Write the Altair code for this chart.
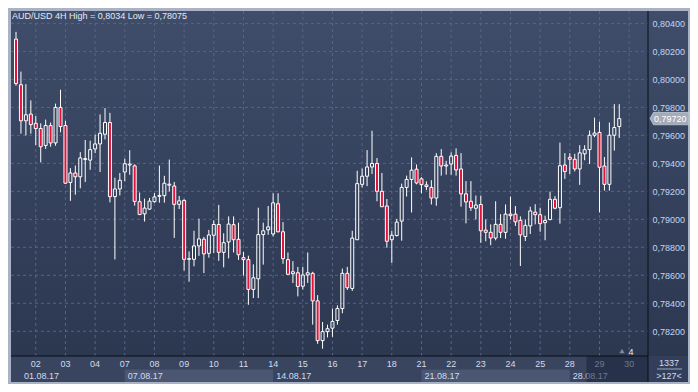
import altair as alt
import pandas as pd

# ---- data (AUD/USD, 4H candles) ----
opens = [0.80288, 0.79962, 0.79704, 0.79752, 0.79686, 0.79649, 0.79528, 0.79670, 0.79546, 0.79800,
         0.79670, 0.79263, 0.79331, 0.79304, 0.79427, 0.79423, 0.79503, 0.79539, 0.79608, 0.79692,
         0.79162, 0.79217, 0.79338, 0.79388, 0.79382, 0.79126, 0.79039, 0.79073, 0.79126, 0.79164,
         0.79169, 0.79244, 0.79238, 0.79107, 0.79135, 0.78714, 0.78714, 0.78810, 0.78858, 0.78757,
         0.78886, 0.78963, 0.78764, 0.78838, 0.78962, 0.78857, 0.78726, 0.78712, 0.78499, 0.78575,
         0.78891, 0.78925, 0.78895, 0.79111, 0.78911, 0.78712, 0.78611, 0.78618, 0.78522, 0.78602,
         0.78614, 0.78417, 0.78133, 0.78197, 0.78222, 0.78277, 0.78362, 0.78614, 0.78506, 0.78854,
         0.79250, 0.79308, 0.79374, 0.79399, 0.79200, 0.79095, 0.78854, 0.78884, 0.78987, 0.79228,
         0.79285, 0.79358, 0.79289, 0.79246, 0.79228, 0.79152, 0.79450, 0.79381, 0.79395, 0.79457,
         0.79360, 0.79182, 0.79129, 0.79079, 0.79106, 0.78923, 0.78907, 0.78866, 0.78964, 0.78907,
         0.79037, 0.79037, 0.78992, 0.78877, 0.78953, 0.79051, 0.79033, 0.78976, 0.78999, 0.79143,
         0.79083, 0.79388, 0.79443, 0.79429, 0.79360, 0.79468, 0.79498, 0.79601, 0.79621, 0.79381,
         0.79250, 0.79601, 0.79663]
highs = [0.80340, 0.80056, 0.79966, 0.79850, 0.79738, 0.79686, 0.79713, 0.79692, 0.79827, 0.79926,
         0.79704, 0.79366, 0.79384, 0.79480, 0.79567, 0.79562, 0.79606, 0.79750, 0.79795, 0.79761,
         0.79297, 0.79331, 0.79434, 0.79494, 0.79393, 0.79192, 0.79148, 0.79153, 0.79187, 0.79384,
         0.79311, 0.79427, 0.79267, 0.79167, 0.79144, 0.78771, 0.78918, 0.79004, 0.78874, 0.78924,
         0.78993, 0.79103, 0.78900, 0.79021, 0.79021, 0.78976, 0.78767, 0.78740, 0.78678, 0.79083,
         0.78976, 0.79095, 0.79186, 0.79186, 0.78980, 0.78763, 0.78701, 0.78660, 0.78660, 0.78763,
         0.78625, 0.78458, 0.78266, 0.78247, 0.78362, 0.78385, 0.78648, 0.78660, 0.78918, 0.79347,
         0.79363, 0.79495, 0.79633, 0.79438, 0.79331, 0.79145, 0.78918, 0.79003, 0.79255, 0.79312,
         0.79443, 0.79392, 0.79301, 0.79271, 0.79280, 0.79473, 0.79502, 0.79418, 0.79479, 0.79507,
         0.79473, 0.79273, 0.79273, 0.79170, 0.79170, 0.78999, 0.78964, 0.79129, 0.79037, 0.79106,
         0.79163, 0.79095, 0.79021, 0.78999, 0.79090, 0.79108, 0.79083, 0.79026, 0.79198, 0.79166,
         0.79548, 0.79473, 0.79473, 0.79468, 0.79530, 0.79530, 0.79635, 0.79727, 0.79697, 0.79445,
         0.79692, 0.79823, 0.79823]
lows = [0.79955, 0.79612, 0.79599, 0.79612, 0.79530, 0.79407, 0.79503, 0.79519, 0.79526, 0.79622,
        0.79254, 0.79132, 0.79176, 0.79222, 0.79267, 0.79354, 0.79473, 0.79338, 0.79571, 0.79121,
        0.78713, 0.79171, 0.79272, 0.79318, 0.79098, 0.79030, 0.78984, 0.79068, 0.79119, 0.79119,
        0.79119, 0.79199, 0.78867, 0.79073, 0.78634, 0.78554, 0.78664, 0.78739, 0.78616, 0.78726,
        0.78760, 0.78703, 0.78657, 0.78721, 0.78763, 0.78710, 0.78598, 0.78389, 0.78437, 0.78437,
        0.78676, 0.78889, 0.78877, 0.78907, 0.78682, 0.78602, 0.78545, 0.78449, 0.78499, 0.78545,
        0.78247, 0.78110, 0.78075, 0.78156, 0.78160, 0.78247, 0.78328, 0.78495, 0.78488, 0.78854,
        0.79228, 0.79237, 0.79324, 0.79129, 0.79088, 0.78797, 0.78689, 0.78877, 0.78847, 0.79163,
        0.79049, 0.79250, 0.79186, 0.79209, 0.79106, 0.79097, 0.79312, 0.79319, 0.79319, 0.79312,
        0.79090, 0.78971, 0.79060, 0.78999, 0.78831, 0.78843, 0.78815, 0.78850, 0.78866, 0.78861,
        0.78999, 0.78953, 0.78666, 0.78845, 0.78895, 0.78964, 0.78911, 0.78850, 0.78992, 0.79072,
        0.78969, 0.79289, 0.79324, 0.79342, 0.79246, 0.79422, 0.79395, 0.79587, 0.79049, 0.79205,
        0.79205, 0.79491, 0.79582]
closes = [0.79971, 0.79704, 0.79747, 0.79677, 0.79649, 0.79519, 0.79670, 0.79546, 0.79800, 0.79663,
          0.79258, 0.79331, 0.79304, 0.79439, 0.79434, 0.79498, 0.79539, 0.79615, 0.79692, 0.79162,
          0.79217, 0.79279, 0.79397, 0.79395, 0.79128, 0.79034, 0.79080, 0.79130, 0.79160, 0.79171,
          0.79258, 0.79251, 0.79107, 0.79132, 0.78714, 0.78719, 0.78810, 0.78860, 0.78753, 0.78888,
          0.78963, 0.78764, 0.78833, 0.78966, 0.78854, 0.78747, 0.78712, 0.78499, 0.78582, 0.78891,
          0.78918, 0.78946, 0.79118, 0.78911, 0.78719, 0.78607, 0.78625, 0.78520, 0.78602, 0.78618,
          0.78417, 0.78133, 0.78197, 0.78218, 0.78270, 0.78362, 0.78614, 0.78511, 0.78866, 0.79255,
          0.79308, 0.79374, 0.79399, 0.79200, 0.79090, 0.78843, 0.78886, 0.78980, 0.79228, 0.79285,
          0.79351, 0.79260, 0.79248, 0.79234, 0.79152, 0.79450, 0.79381, 0.79388, 0.79452, 0.79353,
          0.79182, 0.79124, 0.79083, 0.79102, 0.78918, 0.78907, 0.78866, 0.78964, 0.78907, 0.79037,
          0.79026, 0.78982, 0.78889, 0.78957, 0.79060, 0.79033, 0.78969, 0.78992, 0.79143, 0.79079,
          0.79383, 0.79342, 0.79429, 0.79360, 0.79475, 0.79498, 0.79601, 0.79617, 0.79372, 0.79250,
          0.79601, 0.79656, 0.79720]

day_labels = ["02", "03", "04", "07", "08", "09", "10", "11", "14", "15", "16",
              "17", "18", "21", "22", "23", "24", "25", "28", "29", "30"]
first_day_bar = 4          # bar index where day "02" starts
bars_per_day = 6
week_labels = ["01.08.17", "07.08.17", "14.08.17", "21.08.17", "28.08.17"]
week_start_days = ["07", "14", "21", "28"]
price_ticks = [0.782, 0.784, 0.786, 0.788, 0.790, 0.792, 0.794, 0.796, 0.798, 0.800, 0.802, 0.804]
last_price = 0.79720
title_text = "AUD/USD 4H High = 0,8034 Low = 0,78075"
corner_top = "1337"
corner_bottom = ">127<"
marker_text = "4"

# ---- tables ----
n = len(opens)
candles = pd.DataFrame({"i": list(range(n)), "o": opens, "h": highs, "l": lows, "c": closes})
candles["top"] = candles[["o", "c"]].max(axis=1)
candles["bot"] = candles[["o", "c"]].min(axis=1)
candles["dir"] = ["up" if c >= o else "down" for o, c in zip(opens, closes)]

day_pos = [first_day_bar + bars_per_day * k for k in range(len(day_labels))]
days = pd.DataFrame({"i": day_pos, "lab": day_labels})
wk_pos = [day_pos[day_labels.index(d)] for d in week_start_days]
weeks_rest = pd.DataFrame({"i": wk_pos, "lab": week_labels[1:]})
weeks_first = pd.DataFrame({"i": [0], "lab": week_labels[:1]})
light_boxes = pd.DataFrame({"i": [wk_pos[0], wk_pos[2]], "i2": [wk_pos[1], wk_pos[3]]})
grid_h = pd.DataFrame({"p": price_ticks})
tag = pd.DataFrame({"p": [last_price], "lab": [f"{last_price:.5f}".replace(".", ",")]})
one = pd.DataFrame({"a": [0]})

W, H = 637, 345
FONT = "Liberation Sans"
xs = alt.Scale(domain=[0, 126.8], nice=False, zero=False)
ys = alt.Scale(domain=[0.78023, 0.80489], nice=False, zero=False)
y_axis = alt.Axis(orient="right", values=price_ticks,
                  labelExpr="replace(format(datum.value, '.5f'), '.', ',')",
                  ticks=False, domain=False, grid=False, labelPadding=4, zindex=1,
                  labelFont=FONT, labelFontSize=9, labelColor="#c3d5f1",
                  labelOverlap=False, labelBound=False, labelFlush=False, title=None)

grad = alt.Gradient(gradient="linear",
                    stops=[alt.GradientStop(color="#3f4d6a", offset=0),
                           alt.GradientStop(color="#2c3750", offset=1)],
                    x1=0, x2=0, y1=0, y2=1)
bg = alt.Chart(one).mark_rect(color=grad).encode(
    x=alt.value(0), x2=alt.value(W + 40), y=alt.value(0), y2=alt.value(H))
bottom_panel = alt.Chart(one).mark_rect(color="#39445f").encode(
    x=alt.value(0), x2=alt.value(W), y=alt.value(H), y2=alt.value(H + 26))
corner = alt.Chart(one).mark_rect(color="#333f5a").encode(
    x=alt.value(W), x2=alt.value(W + 40), y=alt.value(H), y2=alt.value(H + 26))
boxes = alt.Chart(light_boxes).mark_rect(color="#4a5672").encode(
    x=alt.X("i:Q", scale=xs, axis=None), x2="i2:Q",
    y=alt.value(H + 13.5), y2=alt.value(H + 26))

vgrid = alt.Chart(days).mark_rule(color="#56648a", strokeDash=[3, 3], strokeWidth=1).encode(
    x=alt.X("i:Q", scale=xs, axis=None), y=alt.value(0), y2=alt.value(H))
hgrid = alt.Chart(grid_h).mark_rule(color="#56648a", strokeDash=[3, 3], strokeWidth=1).encode(
    y=alt.Y("p:Q", scale=ys, axis=y_axis), x=alt.value(0), x2=alt.value(W))

wick_up = alt.Chart(candles).mark_rule(color="white", strokeWidth=1, clip=True).encode(
    x=alt.X("i:Q", scale=xs, axis=None), y=alt.Y("h:Q", scale=ys, axis=y_axis), y2="top:Q")
wick_dn = alt.Chart(candles).mark_rule(color="white", strokeWidth=1, clip=True).encode(
    x=alt.X("i:Q", scale=xs, axis=None), y=alt.Y("bot:Q", scale=ys, axis=y_axis), y2="l:Q")
bodies = alt.Chart(candles).mark_bar(size=3, stroke="white", strokeWidth=1, clip=True).encode(
    x=alt.X("i:Q", scale=xs, axis=None),
    y=alt.Y("top:Q", scale=ys, axis=y_axis), y2="bot:Q",
    fill=alt.Fill("dir:N", scale=alt.Scale(domain=["up", "down"], range=["transparent", "#e3123c"]),
                  legend=None))

tag_shape = "M-1,0L-0.82,-0.32L1,-0.32L1,0.32L-0.82,0.32Z"
tag_mark = alt.Chart(tag).mark_point(shape=tag_shape, size=1521, filled=True, opacity=1,
                                     color="#a3acba", stroke="#d7dce4", strokeWidth=0.6).encode(
    x=alt.value(W + 21.5), y=alt.Y("p:Q", scale=ys, axis=y_axis))
tag_text = alt.Chart(tag).mark_text(align="left", baseline="middle", font=FONT, fontSize=9,
                                    color="#ffffff").encode(
    x=alt.value(W + 6), y=alt.Y("p:Q", scale=ys, axis=y_axis), text="lab:N")

title = alt.Chart(one).mark_text(align="left", baseline="middle", font=FONT, fontSize=9,
                                 color="#e4eaf5", text=title_text).encode(
    x=alt.value(1), y=alt.value(5))
day_text = alt.Chart(days).mark_text(align="center", baseline="middle", font=FONT, fontSize=9,
                                     color="#d0dcf0").encode(
    x=alt.X("i:Q", scale=xs, axis=None), y=alt.value(H + 7.5), text="lab:N")
week_text = alt.Chart(weeks_rest).mark_text(align="left", baseline="middle", font=FONT, fontSize=9,
                                            color="#d0dcf0", dx=3).encode(
    x=alt.X("i:Q", scale=xs, axis=None), y=alt.value(H + 19.5), text="lab:N")
week_first = alt.Chart(weeks_first).mark_text(align="left", baseline="middle", font=FONT, fontSize=9,
                                              color="#d0dcf0", dx=8).encode(
    x=alt.X("i:Q", scale=xs, axis=None), y=alt.value(H + 19.5), text="lab:N")

highlight = alt.Chart(one).mark_rect(color="#1a2236", opacity=0.55).encode(
    x=alt.value(575.5), x2=alt.value(W), y=alt.value(H), y2=alt.value(H + 26))
tri = alt.Chart(one).mark_point(shape="triangle-up", size=28, filled=True, opacity=1,
                                color="#7c879b").encode(x=alt.value(611), y=alt.value(H - 5))
marker = alt.Chart(one).mark_text(align="center", baseline="middle", font=FONT, fontSize=9,
                                  color="#e4eaf5", text=marker_text).encode(
    x=alt.value(620), y=alt.value(H - 4.5))
corner_t1 = alt.Chart(one).mark_text(align="center", baseline="middle", font=FONT, fontSize=9,
                                     color="#d0dcf0", text=corner_top).encode(
    x=alt.value(W + 21), y=alt.value(H + 6.5))
corner_t2 = alt.Chart(one).mark_text(align="center", baseline="middle", font=FONT, fontSize=9,
                                     color="#d0dcf0", text=corner_bottom).encode(
    x=alt.value(W + 21), y=alt.value(H + 19.5))
corner_line = alt.Chart(one).mark_rule(color="#9aa8c0", strokeWidth=1).encode(
    x=alt.value(W + 9), x2=alt.value(W + 34), y=alt.value(H + 13))

line_v = alt.Chart(one).mark_rule(color="#0b0e16", strokeWidth=1).encode(
    x=alt.value(W), y=alt.value(0), y2=alt.value(H + 26))
line_h = alt.Chart(one).mark_rule(color="#0b0e16", strokeWidth=1).encode(
    x=alt.value(0), x2=alt.value(W), y=alt.value(H))

chart = alt.layer(
    bg, bottom_panel, corner, boxes, vgrid, hgrid, wick_up, wick_dn, bodies,
    tag_mark, tag_text, title, day_text, week_text, week_first, highlight, tri, marker,
    corner_t1, corner_t2, corner_line, line_v, line_h
).properties(
    width=W, height=H,
    autosize=alt.AutoSizeParams(type="none"),
    padding={"left": 3, "top": 3, "right": 42, "bottom": 28},
    background="#a9b3c5"
).configure_view(stroke=None, fill=None)

chart.save("out.html", embed_options={"renderer": "svg", "actions": False})
